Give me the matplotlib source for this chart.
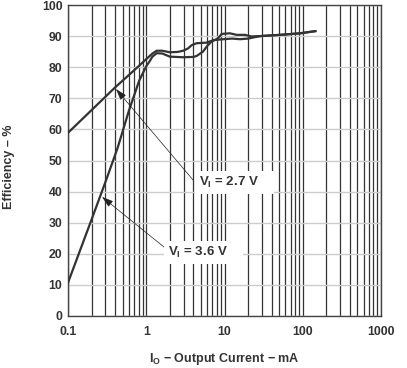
import numpy as np
import matplotlib
matplotlib.use('Agg')
from matplotlib import pyplot as plt
from matplotlib.ticker import LogLocator, FixedLocator, NullFormatter

#--------------------------------------------------------------------------#
# data (mA, %)
#--------------------------------------------------------------------------#

i_27 = [0.1, 0.2, 0.4, 0.7, 1.0, 1.2, 1.36, 1.6, 2.0, 2.5, 2.97, 3.4, 3.82, 4.4,
        5.9, 7.2, 9.7, 12.5, 15.8, 20, 28.5, 51.5, 92.6, 145]
eff_27 = [58.9, 66.2, 73.5, 79.0, 82.6, 84.4, 85.3, 85.3, 84.8, 84.9, 85.3, 86.0,
          87.1, 87.7, 87.9, 88.7, 89.0, 89.2, 89.0, 89.2, 90.0, 90.4, 90.9, 91.6]

i_36 = [0.1, 0.2, 0.3, 0.43, 0.6, 0.81, 1.0, 1.11, 1.2, 1.36, 1.6, 2.0, 2.97, 4.0,
        4.4, 5.3, 6.0, 6.8, 8.3, 9.2, 11.7, 14.3, 18.3, 22, 28.5, 51.5, 92.6, 145]
eff_36 = [10.7, 31.0, 43.0, 54.0, 66.0, 75.6, 80.3, 82.0, 83.4, 84.5, 84.4, 83.4,
          83.2, 83.3, 83.6, 85.0, 86.8, 88.2, 89.3, 90.7, 90.9, 90.4, 90.4, 89.9,
          90.0, 90.4, 90.9, 91.6]

x_ticks = [0.1, 1, 10, 100, 1000]
x_labels = ['0.1', '1', '10', '100', '1000']
y_ticks = list(range(0, 101, 10))

label_27 = r'V$_\mathregular{I}$ = 2.7 V'
label_36 = r'V$_\mathregular{I}$ = 3.6 V'

#--------------------------------------------------------------------------#

plt.rcParams['font.family'] = ['Liberation Sans', 'DejaVu Sans']
plt.rcParams['font.weight'] = 'bold'
plt.rcParams['mathtext.default'] = 'regular'

fig = plt.figure(figsize=(4.07, 3.68), dpi=100)
ax = fig.add_axes([68/407, 52/368, 313/407, 311/368])

ax.set_xscale('log')
ax.set_xlim(0.1, 1000)
ax.set_ylim(0, 100)

ax.xaxis.set_major_locator(FixedLocator(x_ticks))
ax.set_xticklabels(x_labels)
ax.xaxis.set_minor_locator(LogLocator(base=10, subs=np.arange(2, 10)))
ax.xaxis.set_minor_formatter(NullFormatter())
ax.set_yticks(y_ticks)

ax.grid(True, axis='x', which='both', color='#333333', lw=0.9)
ax.grid(True, axis='y', which='major', color='#cccccc', lw=1.0)
ax.set_axisbelow(True)

ax.tick_params(which='both', length=0, labelsize=8.8, colors='#333333')
ax.tick_params(axis='x', pad=7)
ax.tick_params(axis='y', pad=4)
for lab in ax.get_xticklabels() + ax.get_yticklabels():
    lab.set_fontweight('bold')
for s in ax.spines.values():
    s.set_color('#444444')
    s.set_linewidth(1.0)

ax.plot(i_27, eff_27, color='#333333', lw=1.6, zorder=3)
ax.plot(i_36, eff_36, color='#333333', lw=1.6, zorder=3)

arrow = dict(arrowstyle='-|>,head_length=0.7,head_width=0.22', color='#222222',
             lw=0.5, shrinkA=0, shrinkB=0)
ax.annotate('', xy=(0.41, 73.0), xytext=(3.97, 43.7), arrowprops=arrow, zorder=4)
ax.annotate('', xy=(0.272, 38.3), xytext=(1.74, 21.9), arrowprops=arrow, zorder=4)

box = dict(boxstyle='square,pad=0.3', fc='white', ec='none')
ax.text(4.72, 42.8, label_27 + '    ', fontsize=9.5, fontweight='bold', color='#333333',
        ha='left', va='center', bbox=box, zorder=5)
ax.text(1.90, 20.3, label_36 + '    ', fontsize=9.5, fontweight='bold', color='#333333',
        ha='left', va='center', bbox=box, zorder=5)

ax.set_xlabel(r'I$_\mathregular{O}$ $-$ Output Current $-$ mA', fontsize=9,
              fontweight='bold', color='#333333', va='top')
ax.xaxis.set_label_coords(0.5, -0.112)
ax.set_ylabel('Efficiency – %', fontsize=9, fontweight='bold', color='#333333')
ax.yaxis.set_label_coords(-0.168, 0.48)

fig.savefig('out.png', dpi=100)
